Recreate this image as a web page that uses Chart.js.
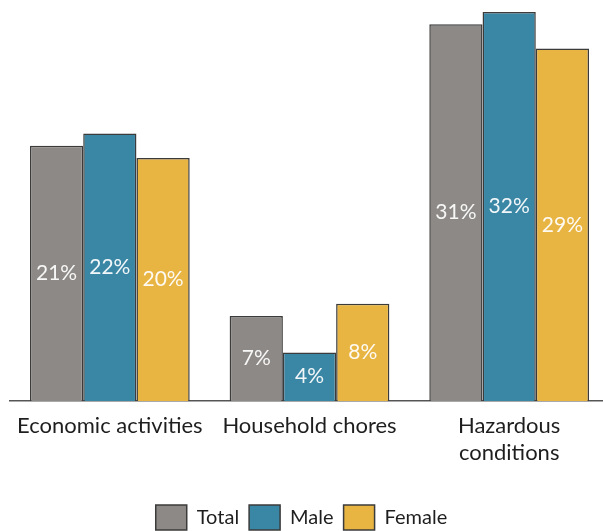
<!DOCTYPE html>
<html>
<head>
<meta charset="utf-8">
<script src="https://cdn.jsdelivr.net/npm/chart.js@4/dist/chart.umd.min.js"></script>
<style>
  html, body { margin: 0; padding: 0; background: #fff; overflow: hidden; }
  #wrap { width: 609px; height: 531px; }
</style>
</head>
<body>
<div id="wrap"><canvas id="chart"></canvas></div>
<script>
// ----- data -----
const categories = ['Economic activities', 'Household chores', ['Hazardous', 'conditions']];
const seriesNames = ['Total', 'Male', 'Female'];
const totalValues = [21, 7, 31];
const maleValues = [22, 4, 32];
const femaleValues = [20, 8, 29];

const colors = ['#8d8986', '#3a86a5', '#e8b442'];
const borderColor = '#3b3b3b';

Chart.defaults.font.family = 'Lato, "Open Sans", sans-serif';
Chart.defaults.color = '#1e1e1e';

// percentage written in the middle of each bar
const barValueLabels = {
    id: 'barValueLabels',
    afterDatasetsDraw(chart) {
        const ctx = chart.ctx;
        ctx.save();
        ctx.font = '21px Lato, sans-serif';
        ctx.fillStyle = 'rgba(255,255,255,0.93)';
        ctx.textAlign = 'center';
        ctx.textBaseline = 'middle';
        chart.data.datasets.forEach((ds, i) => {
            chart.getDatasetMeta(i).data.forEach((bar, j) => {
                const y = (bar.y + bar.base) / 2;
                ctx.fillText(ds.data[j] + '%', bar.x, y);
            });
        });
        ctx.restore();
    }
};

// move the legend a little left and down, under the middle of the page
const legendPlacement = {
    id: 'legendPlacement',
    afterLayout(chart) {
        const lg = chart.legend;
        lg.left -= 8;
        lg.right -= 8;
        lg.top += 9;
        lg.bottom += 9;
    }
};

const data = {
    labels: categories,
    datasets: [
        { label: seriesNames[0], data: totalValues, backgroundColor: colors[0] },
        { label: seriesNames[1], data: maleValues, backgroundColor: colors[1] },
        { label: seriesNames[2], data: femaleValues, backgroundColor: colors[2] }
    ].map(ds => Object.assign(ds, {
        borderColor: borderColor,
        borderWidth: 1.5,
        barPercentage: 1,
        categoryPercentage: 0.8
    }))
};

const config = {
    type: 'bar',
    data: data,
    options: {
        responsive: true,
        maintainAspectRatio: false,
        animation: false,
        layout: { padding: { left: 10, right: 0, top: 12, bottom: 0 } },
        scales: {
            x: {
                grid: { display: false },
                border: { display: true, color: '#555', width: 1.5 },
                ticks: { font: { size: 22 }, color: '#1e1e1e', padding: 4, maxRotation: 0 },
                afterFit(scale) { scale.height = 85; }
            },
            y: {
                display: false,
                min: 0,
                max: 32
            }
        },
        plugins: {
            legend: {
                position: 'bottom',
                labels: {
                    boxWidth: 31,
                    boxHeight: 25,
                    padding: 10,
                    font: { size: 20 },
                    color: '#1e1e1e'
                }
            },
            tooltip: { enabled: false }
        }
    },
    plugins: [barValueLabels, legendPlacement]
};

new Chart(document.getElementById('chart'), config);
</script>
</body>
</html>
